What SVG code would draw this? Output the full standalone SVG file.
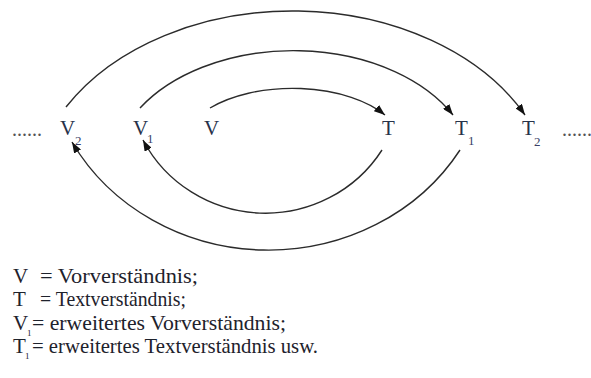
<svg xmlns="http://www.w3.org/2000/svg" width="591" height="378" viewBox="0 0 591 378">
<style>
.arc{fill:none;stroke:#2b2b2b;stroke-width:1.4}
.lbl{font-family:"Liberation Serif","DejaVu Serif",serif;font-size:21px;fill:#27324a}
.sub{font-family:"Liberation Serif","DejaVu Serif",serif;font-size:13px;fill:#3a3f66}
.dots{font-family:"Liberation Serif","DejaVu Serif",serif;font-size:20px;fill:#555}
.leg{font-family:"Liberation Serif","DejaVu Serif",serif;font-size:21px;fill:#1e222c}
.legs{font-family:"Liberation Serif","DejaVu Serif",serif;font-size:9px;fill:#1e222c}
</style>
<defs>
<marker id="ah" viewBox="0 0 11 8" refX="11" refY="4" markerWidth="11" markerHeight="8" markerUnits="userSpaceOnUse" orient="auto">
<path d="M0,0 L11,4 L0,8 Z" fill="#111"/>
</marker>
</defs>
<rect width="591" height="378" fill="#fff"/>
<g id="connectors">
<path class="arc" d="M 66 107 A 262 193 0 0 1 525 115" marker-end="url(#ah)"/>
<path class="arc" d="M 140 108 A 181 122 0 0 1 453 115" marker-end="url(#ah)"/>
<path class="arc" d="M 210 108 A 110 58 0 0 1 385 115" marker-end="url(#ah)"/>
<path class="arc" d="M 382 150 A 138 136 0 0 1 143 140" marker-end="url(#ah)"/>
<path class="arc" d="M 460 150 A 224 208 0 0 1 72 142" marker-end="url(#ah)"/>
</g>
<g id="dots-left"><text class="dots" x="12" y="136">......</text></g>
<g id="node-V2"><text class="lbl" x="60" y="135">V</text><text class="sub" x="75" y="145">2</text></g>
<g id="node-V1"><text class="lbl" x="133" y="135">V</text><text class="sub" x="147" y="143">1</text></g>
<g id="node-V"><text class="lbl" x="204" y="135">V</text></g>
<g id="node-T"><text class="lbl" x="382" y="135">T</text></g>
<g id="node-T1"><text class="lbl" x="455" y="135">T</text><text class="sub" x="468" y="145">1</text></g>
<g id="node-T2"><text class="lbl" x="522" y="135">T</text><text class="sub" x="534" y="146">2</text></g>
<g id="dots-right"><text class="dots" x="562" y="136">......</text></g>
<g id="legend">
<text class="leg" x="13" y="283">V</text><text class="leg" x="40" y="283" textLength="158" lengthAdjust="spacingAndGlyphs">= Vorverständnis;</text>
<text class="leg" x="13" y="306">T</text><text class="leg" x="40" y="306" textLength="146" lengthAdjust="spacingAndGlyphs">= Textverständnis;</text>
<text class="leg" x="13" y="330">V</text><text class="legs" x="27" y="336">1</text><text class="leg" x="32" y="330" textLength="254" lengthAdjust="spacingAndGlyphs">= erweitertes Vorverständnis;</text>
<text class="leg" x="13" y="353">T</text><text class="legs" x="25" y="359">1</text><text class="leg" x="32" y="353" textLength="286" lengthAdjust="spacingAndGlyphs">= erweitertes Textverständnis usw.</text>
</g>
</svg>
